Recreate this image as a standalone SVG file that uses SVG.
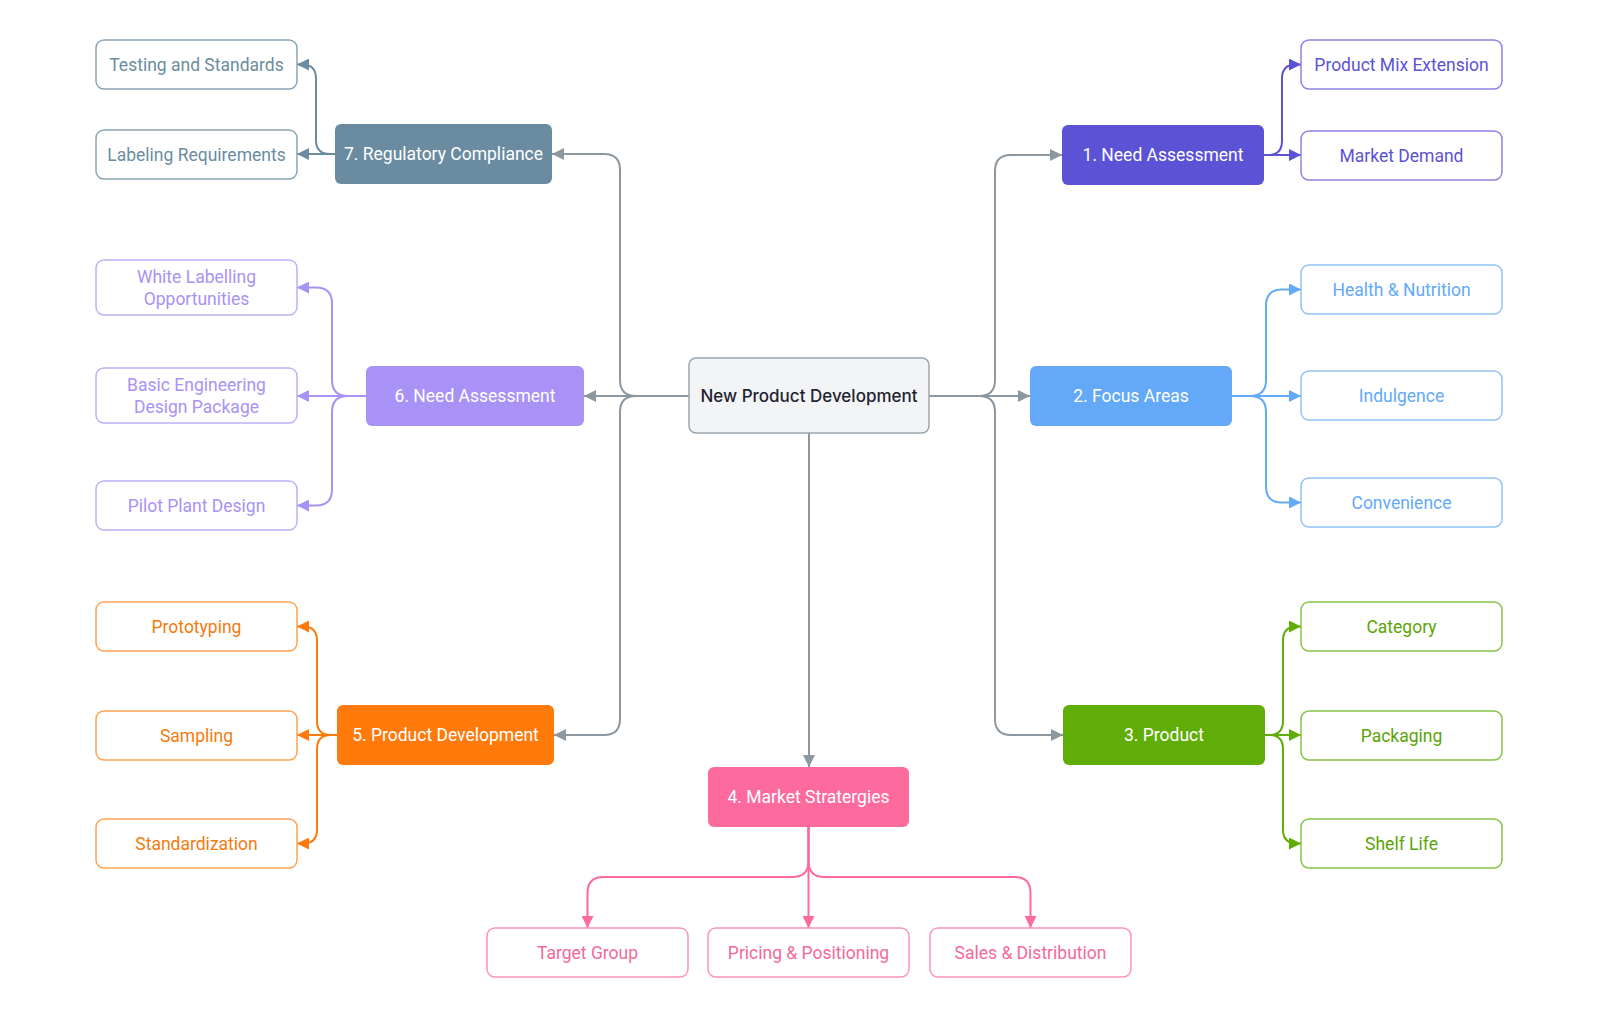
<svg xmlns="http://www.w3.org/2000/svg" width="1600" height="1017" viewBox="0 0 1600 1017">
<style>
text{font-family:Roboto,"Liberation Sans",sans-serif;font-size:17.5px;font-weight:400;text-anchor:middle;dominant-baseline:central}
.main{fill:#fff}
.child{fill:#fff;stroke-width:1.5}
.c{fill:none;stroke-width:2}
.g{stroke:#8c979f}
.slate{stroke:#6b8ca0}.indigo{stroke:#5b52d6}.lav{stroke:#a892f5}.blue{stroke:#63a9f7}.orange{stroke:#ff7a0b}.green{stroke:#61ad07}.pink{stroke:#fd6a9e}
</style>
<defs>
<marker id="mg" viewBox="0 0 10 10" refX="10" refY="5" markerWidth="12" markerHeight="12" markerUnits="userSpaceOnUse" orient="auto"><path d="M0,0L10,5L0,10z" fill="#8c979f"/></marker>
<marker id="ms" viewBox="0 0 10 10" refX="10" refY="5" markerWidth="12" markerHeight="12" markerUnits="userSpaceOnUse" orient="auto"><path d="M0,0L10,5L0,10z" fill="#6b8ca0"/></marker>
<marker id="mi" viewBox="0 0 10 10" refX="10" refY="5" markerWidth="12" markerHeight="12" markerUnits="userSpaceOnUse" orient="auto"><path d="M0,0L10,5L0,10z" fill="#5b52d6"/></marker>
<marker id="ml" viewBox="0 0 10 10" refX="10" refY="5" markerWidth="12" markerHeight="12" markerUnits="userSpaceOnUse" orient="auto"><path d="M0,0L10,5L0,10z" fill="#a892f5"/></marker>
<marker id="mb" viewBox="0 0 10 10" refX="10" refY="5" markerWidth="12" markerHeight="12" markerUnits="userSpaceOnUse" orient="auto"><path d="M0,0L10,5L0,10z" fill="#63a9f7"/></marker>
<marker id="mo" viewBox="0 0 10 10" refX="10" refY="5" markerWidth="12" markerHeight="12" markerUnits="userSpaceOnUse" orient="auto"><path d="M0,0L10,5L0,10z" fill="#ff7a0b"/></marker>
<marker id="mgr" viewBox="0 0 10 10" refX="10" refY="5" markerWidth="12" markerHeight="12" markerUnits="userSpaceOnUse" orient="auto"><path d="M0,0L10,5L0,10z" fill="#61ad07"/></marker>
<marker id="mp" viewBox="0 0 10 10" refX="10" refY="5" markerWidth="12" markerHeight="12" markerUnits="userSpaceOnUse" orient="auto"><path d="M0,0L10,5L0,10z" fill="#fd6a9e"/></marker>
</defs>
<rect width="1600" height="1017" fill="#fff"/>
<g id="connectors">
<path class="c g" marker-end="url(#mg)" d="M689 396H636Q620 396 620 380V170Q620 154 604 154H552"/>
<path class="c g" marker-end="url(#mg)" d="M689 396H584"/>
<path class="c g" marker-end="url(#mg)" d="M689 396H636Q620 396 620 412V719Q620 735 604 735H554"/>
<path class="c g" marker-end="url(#mg)" d="M929 396H979Q995 396 995 380V171Q995 155 1011 155H1062"/>
<path class="c g" marker-end="url(#mg)" d="M929 396H1030"/>
<path class="c g" marker-end="url(#mg)" d="M929 396H979Q995 396 995 412V719Q995 735 1011 735H1063"/>
<path class="c g" marker-end="url(#mg)" d="M809 433V767"/>
<path class="c slate" marker-end="url(#ms)" d="M335 154H330Q316 154 316 140V78.5Q316 64.5 302 64.5H297"/>
<path class="c slate" marker-end="url(#ms)" d="M335 154H297"/>
<path class="c indigo" marker-end="url(#mi)" d="M1264 155H1268Q1282 155 1282 141V78.5Q1282 64.5 1296 64.5H1301"/>
<path class="c indigo" marker-end="url(#mi)" d="M1264 155H1301"/>
<path class="c lav" marker-end="url(#ml)" d="M366 396H348Q332 396 332 380V303.5Q332 287.5 316 287.5H297"/>
<path class="c lav" marker-end="url(#ml)" d="M366 396H297"/>
<path class="c lav" marker-end="url(#ml)" d="M366 396H348Q332 396 332 412V489.5Q332 505.5 316 505.5H297"/>
<path class="c blue" marker-end="url(#mb)" d="M1232 396H1250Q1266 396 1266 380V305.5Q1266 289.5 1282 289.5H1301"/>
<path class="c blue" marker-end="url(#mb)" d="M1232 396H1301"/>
<path class="c blue" marker-end="url(#mb)" d="M1232 396H1250Q1266 396 1266 412V486.5Q1266 502.5 1282 502.5H1301"/>
<path class="c orange" marker-end="url(#mo)" d="M337 735H331Q317 735 317 721V640.5Q317 626.5 303 626.5H297"/>
<path class="c orange" marker-end="url(#mo)" d="M337 735H297"/>
<path class="c orange" marker-end="url(#mo)" d="M337 735H331Q317 735 317 749V829.5Q317 843.5 303 843.5H297"/>
<path class="c green" marker-end="url(#mgr)" d="M1265 735H1269Q1283 735 1283 721V640.5Q1283 626.5 1297 626.5H1301"/>
<path class="c green" marker-end="url(#mgr)" d="M1265 735H1301"/>
<path class="c green" marker-end="url(#mgr)" d="M1265 735H1269Q1283 735 1283 749V829.5Q1283 843.5 1297 843.5H1301"/>
<path class="c pink" marker-end="url(#mp)" d="M808.5 827V861Q808.5 877 792.5 877H603.5Q587.5 877 587.5 893V928"/>
<path class="c pink" marker-end="url(#mp)" d="M808.5 827V928"/>
<path class="c pink" marker-end="url(#mp)" d="M808.5 827V861Q808.5 877 824.5 877H1014.5Q1030.5 877 1030.5 893V928"/>
</g>
<g id="npd"><rect x="689" y="358" width="240" height="75" rx="7" fill="#f3f4f6" stroke="#9aa6ad" stroke-width="1.5"/><text x="809" y="396" style="font-family:Inter,'Liberation Sans',sans-serif;font-size:17px;font-weight:500" fill="#1e2330">New Product Development</text></g>
<g id="n7"><rect x="335" y="124" width="217" height="60" rx="6" fill="#6b8ca0"/><text x="443.5" y="154" class="main">7. Regulatory Compliance</text></g>
<g id="n1"><rect x="1062" y="125" width="202" height="60" rx="6" fill="#5b52d6"/><text x="1163" y="155" class="main">1. Need Assessment</text></g>
<g id="n6"><rect x="366" y="366" width="218" height="60" rx="6" fill="#a892f5"/><text x="475" y="396" class="main">6. Need Assessment</text></g>
<g id="n2"><rect x="1030" y="366" width="202" height="60" rx="6" fill="#63a9f7"/><text x="1131" y="396" class="main">2. Focus Areas</text></g>
<g id="n5"><rect x="337" y="705" width="217" height="60" rx="6" fill="#ff7a0b"/><text x="445.5" y="735" class="main">5. Product Development</text></g>
<g id="n3"><rect x="1063" y="705" width="202" height="60" rx="6" fill="#61ad07"/><text x="1164" y="735" class="main">3. Product</text></g>
<g id="n4"><rect x="708" y="767" width="201" height="60" rx="6" fill="#fd6a9e"/><text x="808.5" y="797" class="main">4. Market Stratergies</text></g>
<g id="testing"><rect x="96" y="40" width="201" height="49" rx="8" class="child" stroke="#8aa5b5"/><text x="196.5" y="64.5" fill="#6b8ca0">Testing and Standards</text></g>
<g id="labeling"><rect x="96" y="130" width="201" height="49" rx="8" class="child" stroke="#8aa5b5"/><text x="196.5" y="154.5" fill="#6b8ca0">Labeling Requirements</text></g>
<g id="whitelab"><rect x="96" y="260" width="201" height="55" rx="8" class="child" stroke="#bfb0f8"/><text x="196.5" y="276.5" fill="#a892f5">White Labelling</text><text x="196.5" y="298.5" fill="#a892f5">Opportunities</text></g>
<g id="basiceng"><rect x="96" y="368" width="201" height="55" rx="8" class="child" stroke="#bfb0f8"/><text x="196.5" y="384.5" fill="#a892f5">Basic Engineering</text><text x="196.5" y="406.5" fill="#a892f5">Design Package</text></g>
<g id="pilot"><rect x="96" y="481" width="201" height="49" rx="8" class="child" stroke="#bfb0f8"/><text x="196.5" y="505.5" fill="#a892f5">Pilot Plant Design</text></g>
<g id="proto"><rect x="96" y="602" width="201" height="49" rx="8" class="child" stroke="#ffa254"/><text x="196.5" y="626.5" fill="#f57a0b">Prototyping</text></g>
<g id="sampling"><rect x="96" y="711" width="201" height="49" rx="8" class="child" stroke="#ffa254"/><text x="196.5" y="735.5" fill="#f57a0b">Sampling</text></g>
<g id="std"><rect x="96" y="819" width="201" height="49" rx="8" class="child" stroke="#ffa254"/><text x="196.5" y="843.5" fill="#f57a0b">Standardization</text></g>
<g id="pme"><rect x="1301" y="40" width="201" height="49" rx="8" class="child" stroke="#8a84e3"/><text x="1401.5" y="64.5" fill="#5b52d6">Product Mix Extension</text></g>
<g id="md"><rect x="1301" y="131" width="201" height="49" rx="8" class="child" stroke="#8a84e3"/><text x="1401.5" y="155.5" fill="#5b52d6">Market Demand</text></g>
<g id="health"><rect x="1301" y="265" width="201" height="49" rx="8" class="child" stroke="#93c2f8"/><text x="1401.5" y="289.5" fill="#63a9f7">Health &amp; Nutrition</text></g>
<g id="indul"><rect x="1301" y="371" width="201" height="49" rx="8" class="child" stroke="#93c2f8"/><text x="1401.5" y="395.5" fill="#63a9f7">Indulgence</text></g>
<g id="conv"><rect x="1301" y="478" width="201" height="49" rx="8" class="child" stroke="#93c2f8"/><text x="1401.5" y="502.5" fill="#63a9f7">Convenience</text></g>
<g id="cat"><rect x="1301" y="602" width="201" height="49" rx="8" class="child" stroke="#86c246"/><text x="1401.5" y="626.5" fill="#5aa407">Category</text></g>
<g id="pack"><rect x="1301" y="711" width="201" height="49" rx="8" class="child" stroke="#86c246"/><text x="1401.5" y="735.5" fill="#5aa407">Packaging</text></g>
<g id="shelf"><rect x="1301" y="819" width="201" height="49" rx="8" class="child" stroke="#86c246"/><text x="1401.5" y="843.5" fill="#5aa407">Shelf Life</text></g>
<g id="target"><rect x="487" y="928" width="201" height="49" rx="8" class="child" stroke="#fd93b8"/><text x="587.5" y="952.5" fill="#f5689a">Target Group</text></g>
<g id="pricing"><rect x="708" y="928" width="201" height="49" rx="8" class="child" stroke="#fd93b8"/><text x="808.5" y="952.5" fill="#f5689a">Pricing &amp; Positioning</text></g>
<g id="sales"><rect x="930" y="928" width="201" height="49" rx="8" class="child" stroke="#fd93b8"/><text x="1030.5" y="952.5" fill="#f5689a">Sales &amp; Distribution</text></g>
</svg>
